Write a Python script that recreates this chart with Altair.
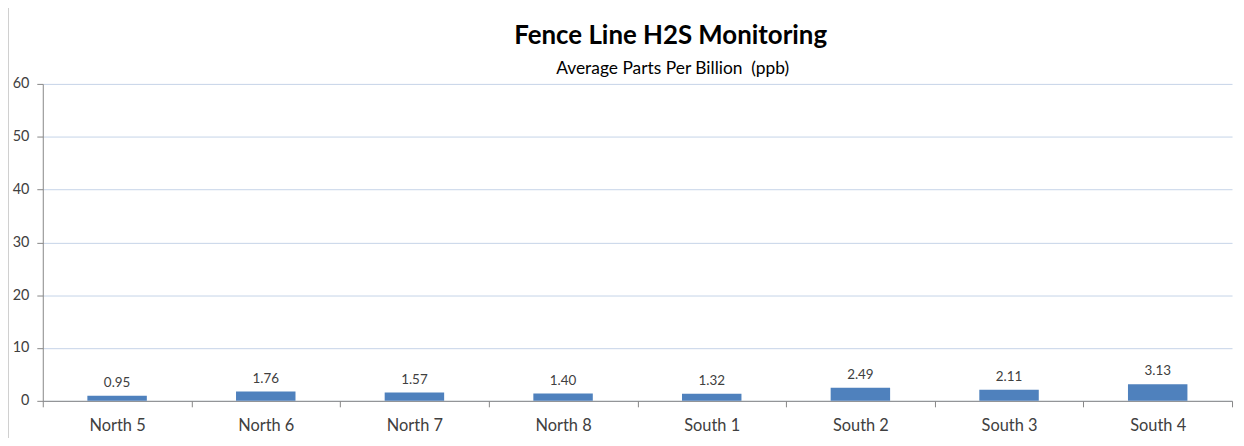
import altair as alt
import pandas as pd

stations = ["North 5", "North 6", "North 7", "North 8", "South 1", "South 2", "South 3", "South 4"]
ppb = [0.95, 1.76, 1.57, 1.40, 1.32, 2.49, 2.11, 3.13]
labels = ["0.95", "1.76", "1.57", "1.40", "1.32", "2.49", "2.11", "3.13"]
title_text = "Fence Line H2S Monitoring"
subtitle_text = "Average Parts Per Billion\u00a0 (ppb)"

df = pd.DataFrame({"station": stations, "ppb": ppb, "label": labels})

FONT = "Lato"

x_enc = alt.X(
    "station:N",
    sort=stations,
    title=None,
    scale=alt.Scale(paddingInner=0, paddingOuter=0),
    axis=alt.Axis(
        labelAngle=0, labelFontSize=16.5, labelColor="#404040", labelFont=FONT,
        labelPadding=11, tickBand="extent", tickSize=6, tickColor="#868686",
        domainColor="#868686", grid=False,
    ),
)
y_enc = alt.Y(
    "ppb:Q",
    title=None,
    scale=alt.Scale(domain=[0, 60]),
    axis=alt.Axis(
        values=[0, 10, 20, 30, 40, 50, 60], labelFontSize=14.5, labelColor="#404040",
        labelFont=FONT, labelPadding=8, tickSize=6, tickColor="#868686",
        domainColor="#868686", gridColor="#c6d4e8", gridWidth=1,
    ),
)

base = alt.Chart(df)
bars = base.mark_bar(color="#4f81bd", width=alt.RelativeBandSize(0.4)).encode(x=x_enc, y=y_enc)
text = base.mark_text(dy=-13, fontSize=13.5, font=FONT, color="#404040").encode(
    x=alt.X("station:N", sort=stations), y="ppb:Q", text="label:N"
)
one = pd.DataFrame({"t": [title_text], "s": [subtitle_text]})
title_mark = alt.Chart(one).mark_text(
    font=FONT, fontSize=26, fontWeight="bold", color="#000000", align="center", baseline="alphabetic"
).encode(x=alt.value(632), y=alt.value(-40), text="t:N")
subtitle_mark = alt.Chart(one).mark_text(
    font=FONT, fontSize=17.5, color="#000000", align="center", baseline="alphabetic"
).encode(x=alt.value(634), y=alt.value(-10), text="s:N")
border = alt.Chart(one).mark_rule(color="#d0d0d0").encode(
    x=alt.value(-34.5), y=alt.value(-78), y2=alt.value(360)
)

chart = alt.layer(bars, text, title_mark, subtitle_mark, border).properties(
    width=1197,
    height=319,
    autosize=alt.AutoSizeParams(type="none"),
    padding={"left": 35, "top": 75, "right": 4, "bottom": 36},
    background="white",
).configure_view(stroke=None)

chart.save("out.html", embed_options={"renderer": "svg", "actions": False})
